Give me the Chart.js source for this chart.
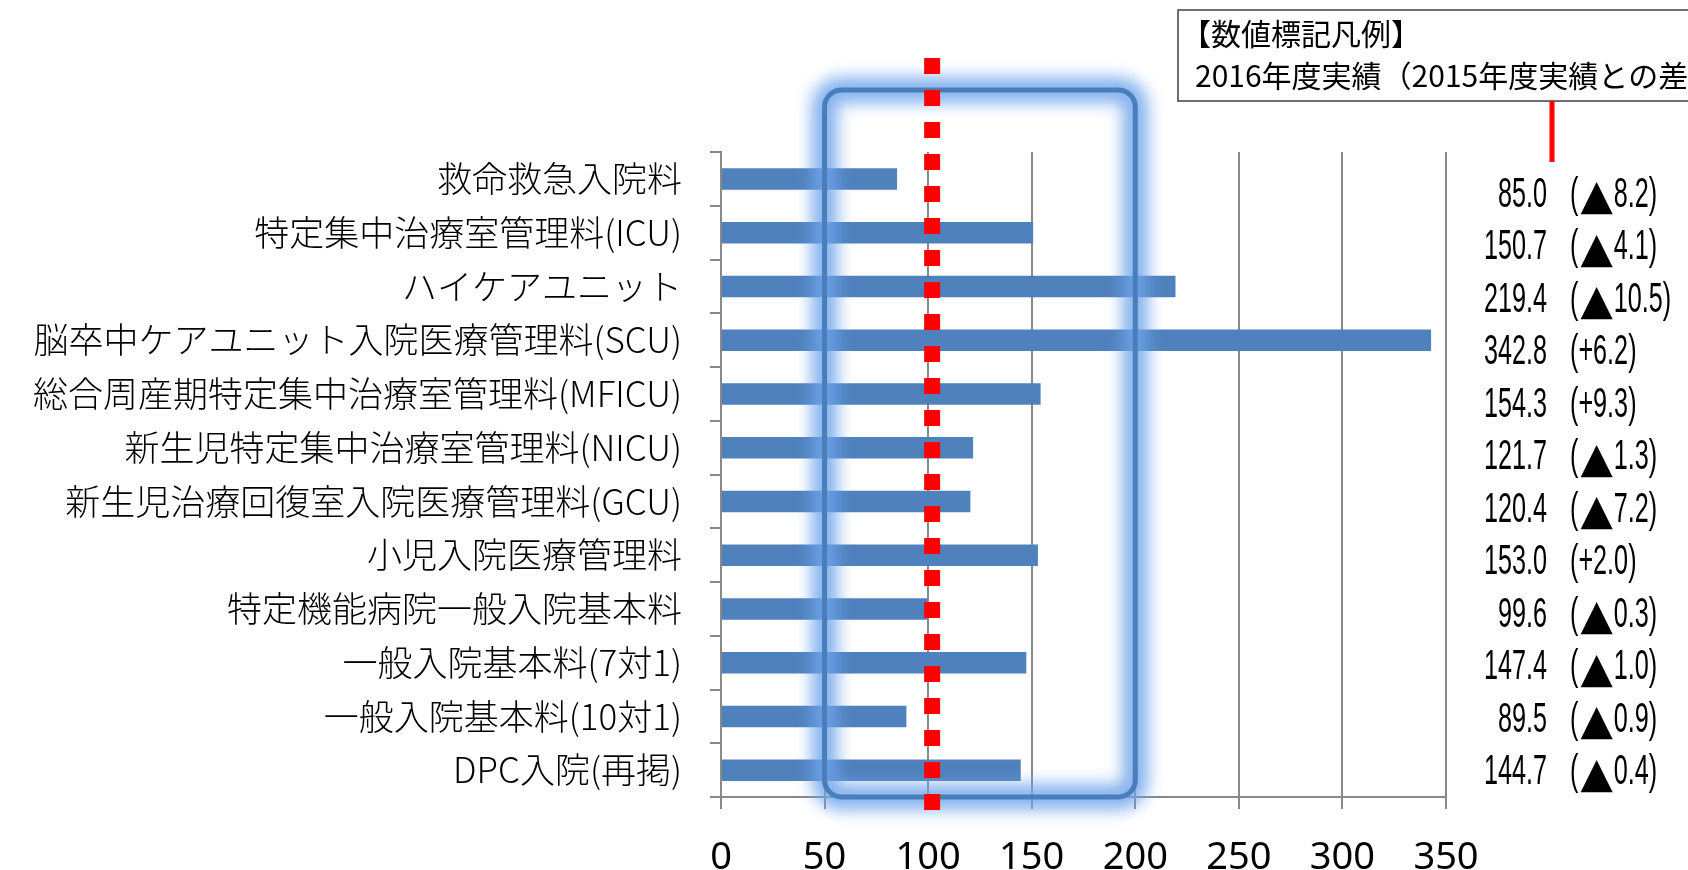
<!DOCTYPE html>
<html lang="ja">
<head>
<meta charset="utf-8">
<script src="https://cdn.jsdelivr.net/npm/chart.js@4.4.1/dist/chart.umd.min.js"></script>
<style>
  html, body { margin: 0; padding: 0; background: #ffffff; }
  canvas { display: block; }
</style>
</head>
<body>
<canvas id="chart" width="1688" height="870"></canvas>
<script>
// Categories, top to bottom
const categories = [
  '救命救急入院料',
  '特定集中治療室管理料(ICU)',
  'ハイケアユニット',
  '脳卒中ケアユニット入院医療管理料(SCU)',
  '総合周産期特定集中治療室管理料(MFICU)',
  '新生児特定集中治療室管理料(NICU)',
  '新生児治療回復室入院医療管理料(GCU)',
  '小児入院医療管理料',
  '特定機能病院一般入院基本料',
  '一般入院基本料(7対1)',
  '一般入院基本料(10対1)',
  'DPC入院(再掲)'
];

// 2016 results
const values2016 = [85.0, 150.7, 219.4, 342.8, 154.3, 121.7, 120.4, 153.0, 99.6, 147.4, 89.5, 144.7];

// Difference from 2015 results (negative shown as ▲)
const diffFrom2015 = [-8.2, -4.1, -10.5, 6.2, 9.3, -1.3, -7.2, 2.0, -0.3, -1.0, -0.9, -0.4];

// Value axis ticks
const axisTicks = [0, 50, 100, 150, 200, 250, 300, 350];

// Reference line and highlighted band on the value axis
const referenceValue = 100;
const highlightRange = [50, 200];

// Legend note text
const legendLines = ['【数値標記凡例】', '2016年度実績（2015年度実績との差）'];

const GRID = '#898989';
const BAR = '#4f81bd';
const NARROW_FONT = '42px "Liberation Sans", sans-serif';
const NARROW_SCALE = 0.6;
const TRIANGLE_FONT = '42px "DejaVu Sans", sans-serif';

function roundRectPath(ctx, x, y, w, h, r) {
  ctx.beginPath();
  ctx.moveTo(x + r, y);
  ctx.lineTo(x + w - r, y);
  ctx.arcTo(x + w, y, x + w, y + r, r);
  ctx.lineTo(x + w, y + h - r);
  ctx.arcTo(x + w, y + h, x + w - r, y + h, r);
  ctx.lineTo(x + r, y + h);
  ctx.arcTo(x, y + h, x, y + h - r, r);
  ctx.lineTo(x, y + r);
  ctx.arcTo(x, y, x + r, y, r);
  ctx.closePath();
}

// Condensed text: draws at (x, y), returns the drawn width in pixels
function narrowText(ctx, text, x, y, align) {
  ctx.save();
  ctx.font = NARROW_FONT;
  ctx.textAlign = align;
  ctx.translate(x, y);
  ctx.scale(NARROW_SCALE, 1);
  ctx.fillText(text, 0, 0);
  const w = ctx.measureText(text).width * NARROW_SCALE;
  ctx.restore();
  return w;
}

// "(▲8.2)" or "(+6.2)"
function drawDiff(ctx, d, x, y) {
  x += narrowText(ctx, '(', x, y, 'left');
  if (d < 0) {
    x += 2;
    ctx.save();
    ctx.font = TRIANGLE_FONT;
    ctx.textAlign = 'left';
    ctx.textBaseline = 'alphabetic';
    ctx.fillText('▲', x, y + 14);
    x += ctx.measureText('▲').width + 1;
    ctx.restore();
  } else {
    x += narrowText(ctx, '+', x, y, 'left');
  }
  x += narrowText(ctx, Math.abs(d).toFixed(1), x, y, 'left');
  narrowText(ctx, ')', x, y, 'left');
}

const overlay = {
  id: 'overlay',
  afterDraw(chart) {
    const { ctx, chartArea, scales: { x } } = chart;

    // Highlighted band with soft glow
    const bx0 = x.getPixelForValue(highlightRange[0]);
    const bx1 = x.getPixelForValue(highlightRange[1]);
    const by0 = chartArea.top - 62;
    const by1 = chartArea.bottom;
    ctx.save();
    ctx.filter = 'blur(8px)';
    roundRectPath(ctx, bx0, by0, bx1 - bx0, by1 - by0, 17);
    ctx.lineWidth = 26;
    ctx.strokeStyle = 'rgba(110,165,235,0.85)';
    ctx.stroke();
    ctx.filter = 'none';
    roundRectPath(ctx, bx0, by0, bx1 - bx0, by1 - by0, 17);
    ctx.lineWidth = 5;
    ctx.strokeStyle = '#4a7ebb';
    ctx.stroke();
    ctx.restore();

    // Red dotted reference line
    const rx = x.getPixelForValue(referenceValue) + 4;
    ctx.save();
    ctx.beginPath();
    ctx.setLineDash([16, 16]);
    ctx.lineWidth = 16;
    ctx.lineCap = 'butt';
    ctx.strokeStyle = '#ff0000';
    ctx.moveTo(rx, chartArea.top - 94);
    ctx.lineTo(rx, chartArea.bottom + 14);
    ctx.stroke();
    ctx.restore();

    // Value labels at the right
    const labelRight = chartArea.right + 101;
    ctx.save();
    ctx.fillStyle = '#000000';
    ctx.textBaseline = 'middle';
    values2016.forEach((v, i) => {
      const yc = chartArea.top + 43 + i * 52.5;
      narrowText(ctx, v.toFixed(1), labelRight, yc, 'right');
      drawDiff(ctx, diffFrom2015[i], labelRight + 23, yc);
    });
    ctx.restore();

    // Legend note box
    ctx.save();
    ctx.fillStyle = '#ffffff';
    ctx.strokeStyle = '#404040';
    ctx.lineWidth = 1.5;
    ctx.fillRect(1178, 10, 540, 91);
    ctx.strokeRect(1178, 10, 540, 91);
    ctx.fillStyle = '#000000';
    ctx.font = '30px "Noto Sans CJK JP", sans-serif';
    ctx.textBaseline = 'middle';
    ctx.textAlign = 'left';
    ctx.fillText(legendLines[0], 1181, 34);
    ctx.fillText(legendLines[1], 1195, 76);
    ctx.restore();

    // Connector from legend box to the first value label
    ctx.save();
    ctx.strokeStyle = '#ff0000';
    ctx.lineWidth = 5;
    ctx.beginPath();
    ctx.moveTo(labelRight + 5, 101);
    ctx.lineTo(labelRight + 5, chartArea.top + 10);
    ctx.stroke();
    ctx.restore();
  }
};

new Chart(document.getElementById('chart'), {
  type: 'bar',
  data: {
    labels: categories,
    datasets: [{
      data: values2016,
      backgroundColor: BAR,
      borderWidth: 0,
      barPercentage: 0.4,
      categoryPercentage: 1.0
    }]
  },
  options: {
    indexAxis: 'y',
    responsive: false,
    animation: false,
    devicePixelRatio: 1,
    layout: { padding: { top: 152, right: 242, left: 0, bottom: 0 } },
    plugins: {
      legend: { display: false },
      tooltip: { enabled: false }
    },
    scales: {
      x: {
        type: 'linear',
        min: 0,
        max: 350,
        afterBuildTicks: s => { s.ticks = axisTicks.map(v => ({ value: v })); },
        afterFit: s => { s.height = 73; },
        grid: { color: GRID, lineWidth: 2, tickLength: 12, drawTicks: true },
        border: { display: true, color: GRID, width: 2 },
        ticks: {
          color: '#000000',
          padding: 26,
          font: { family: '"Noto Sans", sans-serif', size: 38 }
        }
      },
      y: {
        type: 'category',
        afterFit: s => { s.width = 721; },
        grid: { drawOnChartArea: false, offset: true, color: GRID, lineWidth: 2, tickLength: 11 },
        border: { display: true, color: GRID, width: 2 },
        ticks: {
          color: '#000000',
          padding: 28,
          autoSkip: false,
          font: { family: '"Noto Sans CJK JP", sans-serif', size: 35, weight: '300' }
        }
      }
    }
  },
  plugins: [overlay]
});
</script>
</body>
</html>
